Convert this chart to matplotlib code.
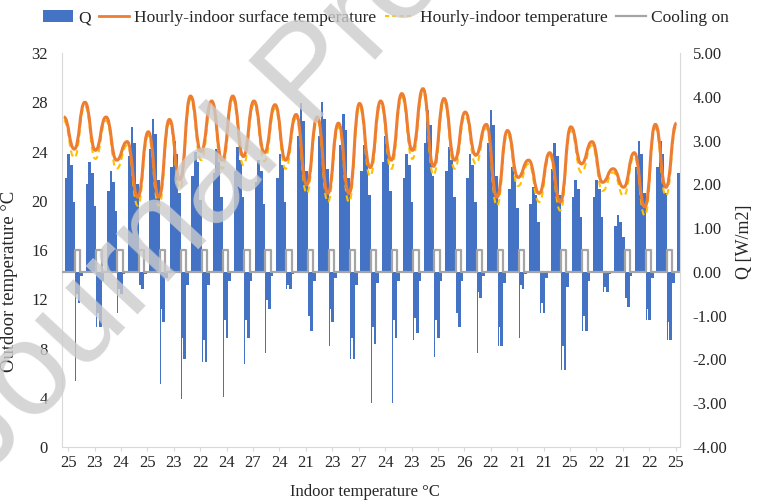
import numpy as np
import matplotlib
matplotlib.use("Agg")
import matplotlib.pyplot as plt
from matplotlib.patches import Patch, PathPatch
from matplotlib.lines import Line2D
from matplotlib.path import Path

plt.rcParams['font.family'] = ['Liberation Serif', 'DejaVu Serif']
plt.rcParams['axes.unicode_minus'] = False

# x tick labels (indoor temperature every 30 h)
x_labels = [25, 23, 24, 25, 23, 22, 24, 27, 24, 21, 23, 27,
            24, 23, 25, 26, 22, 21, 21, 25, 22, 21, 22, 25]

# surface / indoor temperature, read every 12 h (peak, trough, ...)
surface_temp = [26.8, 24.2, 28.0, 24.1, 26.8, 23.3, 24.8, 20.3, 25.6, 20.3,
                26.6, 21.7, 28.5, 24.0, 28.1, 23.3, 28.5, 23.6, 28.1, 23.9,
                27.8, 23.3, 27.0, 21.3, 26.8, 20.6, 26.3, 20.6, 27.9, 22.7,
                28.1, 23.3, 28.7, 24.1, 29.1, 22.8, 28.3, 23.3, 27.2, 23.7,
                26.2, 20.3, 25.7, 21.9, 23.3, 20.6, 23.9, 19.9, 26.0, 23.0,
                24.8, 21.5, 22.6, 21.1, 23.9, 19.5, 26.2, 21.1, 26.3]
indoor_temp = [26.5, 23.5, 27.7, 23.4, 26.5, 22.6, 24.5, 19.6, 25.3, 19.6,
               26.3, 21.0, 28.2, 23.3, 27.8, 22.6, 28.2, 22.9, 27.8, 23.2,
               27.5, 22.6, 26.7, 20.6, 26.5, 19.9, 26.0, 19.9, 27.6, 22.0,
               27.8, 22.6, 28.4, 23.4, 28.8, 22.1, 28.0, 22.6, 26.9, 23.0,
               25.9, 19.6, 25.4, 21.2, 23.0, 19.9, 23.6, 19.2, 25.7, 22.3,
               24.5, 20.8, 22.3, 20.4, 23.6, 18.8, 25.9, 20.4, 26.0]

# Q [W/m2], one row per day, 3-hourly values
q_flux = [
    [2.15, 2.70, 2.45, 1.60, -0.50, -0.70, -0.10, 0],
    [2.00, 2.50, 2.25, 1.50, -0.95, -1.25, -0.20, 0],
    [1.85, 2.30, 2.05, 1.40, -0.40, -0.50, -0.05, 0],
    [2.65, 3.30, 2.95, 2.00, -0.30, -0.40, -0.05, 0],
    [2.80, 3.50, 3.15, 2.10, -0.85, -1.15, -0.15, 0],
    [2.40, 3.00, 2.70, 1.80, -1.50, -2.00, -0.30, 0],
    [2.20, 2.75, 2.50, 1.65, -1.55, -2.05, -0.30, 0],
    [2.25, 2.80, 2.50, 1.70, -1.10, -1.50, -0.20, 0],
    [2.30, 2.85, 2.55, 1.70, -1.10, -1.50, -0.20, 0],
    [2.05, 2.55, 2.30, 1.55, -0.65, -0.85, -0.10, 0],
    [2.15, 2.70, 2.45, 1.60, -0.30, -0.40, -0.05, 0],
    [3.10, 3.85, 3.45, 2.30, -1.00, -1.35, -0.20, 0],
    [3.10, 3.88, 3.50, 2.35, -0.85, -1.15, -0.15, 0],
    [2.90, 3.60, 3.25, 2.15, -1.50, -2.00, -0.30, 0],
    [2.30, 2.90, 2.60, 1.75, -1.25, -1.65, -0.25, 0],
    [2.50, 3.10, 2.80, 1.85, -1.10, -1.50, -0.20, 0],
    [2.15, 2.70, 2.45, 1.60, -1.05, -1.40, -0.20, 0],
    [2.95, 3.70, 3.35, 2.20, -1.10, -1.50, -0.20, 0],
    [2.30, 2.85, 2.55, 1.70, -0.95, -1.25, -0.20, 0],
    [2.15, 2.70, 2.45, 1.60, -0.45, -0.60, -0.10, 0],
    [2.95, 3.70, 3.35, 2.20, -1.25, -1.70, -0.25, 0],
    [1.90, 2.40, 2.15, 1.45, -0.30, -0.40, -0.05, 0],
    [1.55, 1.95, 1.75, 1.15, -0.70, -0.95, -0.15, 0],
    [2.35, 2.95, 2.65, 1.75, -1.70, -2.25, -0.35, 0],
    [1.70, 2.10, 1.90, 1.25, -1.00, -1.35, -0.20, 0],
    [1.70, 2.10, 1.90, 1.25, -0.35, -0.45, -0.05, 0],
    [1.05, 1.30, 1.15, 0.80, -0.60, -0.80, -0.10, 0],
    [2.40, 3.00, 2.70, 1.80, -0.85, -1.10, -0.15, 0],
    [2.40, 3.00, 2.70, 1.80, -1.15, -1.55, -0.25, 0],
    [2.25, 2.30, 2.10, 1.40, -0.50, -0.70, -0.10, 0],
]
# single-hour dips at the start of each cooling period
q_spike = [-2.50, -1.25, -0.95, -2.60, -2.55, -2.90, -2.05, -2.85, -2.10, -1.85,
           -0.40, -2.10, -1.70, -2.00, -3.00, -3.00, -1.55, -1.95, -2.70, -1.85,
           -1.70, -1.50, -0.95, -2.25, -1.35, -0.45, -0.80, -1.10, -1.55, 0.0]
cooling_on = [1, 1, 1, 1, 1, 1, 1, 1, 1, 1, 1, 1, 1, 1, 1,
              1, 1, 1, 1, 1, 1, 1, 0, 1, 1, 0, 1, 1, 1, 1]
cooling_slots = [0, 0, 0, 0, 1, 1, 0, 0]

BLUE = '#4472C4'
ORANGE = '#ED7D31'
YELLOW = '#FFC000'
GREY = '#A5A5A5'
AXCOL = '#D9D9D9'
TXT = '#262626'


def smooth_path(xs, ys):
    # bezier segments with flat tangents at each read peak / trough
    verts = [(xs[0], ys[0])]
    codes = [Path.MOVETO]
    for i in range(1, len(xs)):
        h = xs[i] - xs[i - 1]
        verts += [(xs[i - 1] + h / 2, ys[i - 1]), (xs[i] - h / 2, ys[i]), (xs[i], ys[i])]
        codes += [Path.CURVE4] * 3
    return Path(verts, codes)


fig = plt.figure(figsize=(7.57, 5.03), dpi=100)
ax = fig.add_axes([0.0819, 0.1113, 0.8164, 0.7833])
axt = ax.twinx()

# Q as a stepped area (right axis)
q_flat = np.array(q_flux).ravel()
slot_hours = 3 + 3 * np.arange(len(q_flat))
ax.fill_between(np.r_[0, slot_hours, slot_hours[-1] + 3], np.r_[0, q_flat, 0],
                step='post', color=BLUE, linewidth=0, zorder=2)
spike_hours = 3 + 24 * np.arange(len(q_spike)) + 12
ax.bar(spike_hours, q_spike, width=1, align='edge', color=BLUE, linewidth=0, zorder=2)

# cooling on (right axis, 0 / 0.5)
cool = (np.array(cooling_on)[:, None] * np.array(cooling_slots)[None, :]).ravel() * 0.5
ax.step(np.r_[0, slot_hours], np.r_[0, cool], where='post', color=GREY, lw=1.6, zorder=3)

# temperatures (left axis)
t_hours = np.arange(2, 702, 12)
axt.add_patch(PathPatch(smooth_path(t_hours, indoor_temp), fill=False, edgecolor=YELLOW,
                        lw=1.5, ls=(0, (3, 2)), zorder=3))
axt.add_patch(PathPatch(smooth_path(t_hours, surface_temp), fill=False, edgecolor=ORANGE,
                        lw=2.2, zorder=4))

ax.set_xlim(0, 702)
ax.set_ylim(-4, 5)
axt.set_ylim(0, 32)

ax.set_xticks(7 + 30 * np.arange(len(x_labels)))
ax.set_xticklabels([str(v) for v in x_labels])
ax.set_yticks(np.arange(-4, 6, 1))
ax.set_yticklabels(['%.2f' % v for v in np.arange(-4, 6, 1)])
axt.set_yticks(np.arange(0, 33, 4))

ax.yaxis.tick_right()
ax.yaxis.set_label_position('right')
axt.yaxis.tick_left()
axt.yaxis.set_label_position('left')

ax.spines['top'].set_visible(False)
for s in ['left', 'right', 'bottom']:
    ax.spines[s].set_color(AXCOL)
for s in axt.spines.values():
    s.set_visible(False)

ax.tick_params(axis='x', length=3, color=AXCOL, labelsize=12, labelcolor=TXT, pad=3)
ax.tick_params(axis='y', length=0, labelsize=12, labelcolor=TXT, pad=9)
axt.tick_params(axis='y', length=0, labelsize=12, labelcolor=TXT, pad=10)

ax.set_xlabel('Indoor temperature °C', fontsize=12, color=TXT)
ax.xaxis.set_label_coords(0.49, -0.094)
axt.set_ylabel('Outdoor temperature °C', fontsize=13.5, color=TXT)
axt.yaxis.set_label_coords(-0.072, 0.42)
ax.set_ylabel('Q [W/m2]', fontsize=13, color=TXT, rotation=90)
ax.yaxis.set_label_coords(1.09, 0.52)

handles = [Patch(facecolor=BLUE, edgecolor='none'),
           Line2D([], [], color=ORANGE, lw=2),
           Line2D([], [], color=YELLOW, lw=1.5, ls=(0, (2, 1.5))),
           Line2D([], [], color=GREY, lw=1.6)]
labels = ['Q', 'Hourly-indoor surface temperature', 'Hourly-indoor temperature', 'Cooling on']
fig.legend(handles, labels, loc='center', bbox_to_anchor=(0.51, 0.964), ncol=4,
           frameon=False, fontsize=12.5, handlelength=1.7, handletextpad=0.3,
           columnspacing=0.5, labelcolor=TXT)

# watermark of the source page
fig.text(0.412, 0.845, 'Journal Pre-proof', rotation=47, fontsize=96, color='#cccccc',
         alpha=0.8, ha='center', va='center', family='Liberation Sans', zorder=10)

fig.savefig('out.png', dpi=100)
